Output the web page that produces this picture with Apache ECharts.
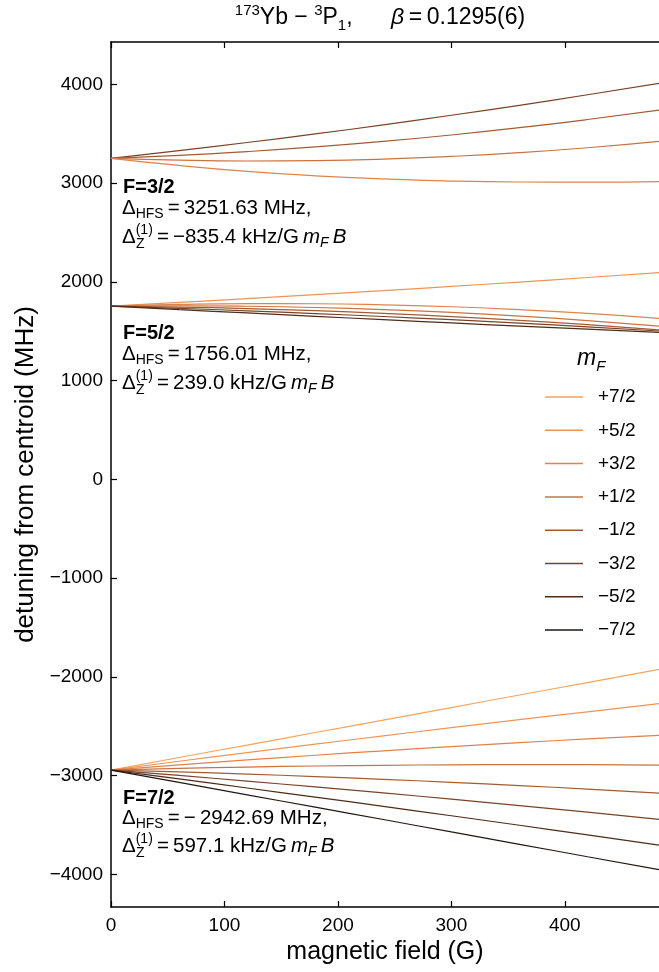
<!DOCTYPE html>
<html>
<head>
<meta charset="utf-8">
<script src="https://cdn.jsdelivr.net/npm/echarts@6/dist/echarts.min.js"></script>
<style>html,body{margin:0;padding:0;background:#fff}#c{width:659px;height:972px}</style>
</head>
<body>
<div id="c"></div>
<script>
// ---- data ----
const fieldG = [0, 60, 120, 180, 240, 300, 360, 420, 483];
const xTicks = [0, 100, 200, 300, 400];
const yTicks = [-4000, -3000, -2000, -1000, 0, 1000, 2000, 3000, 4000];
const mFLabels = ['+7/2', '+5/2', '+3/2', '+1/2', '\u22121/2', '\u22123/2', '\u22125/2', '\u22127/2'];
const mFColors = ['#f7a35c', '#f09455', '#e0824a', '#c9733f', '#a35b33', '#7b4326', '#4e2c18', '#241610'];

// F = 3/2
const F32_m3_2 = [3252, 3330, 3412, 3499, 3591, 3688, 3789, 3896, 4012];
const F32_m1_2 = [3252, 3281, 3320, 3367, 3423, 3488, 3562, 3645, 3741];
const F32_p1_2 = [3252, 3233, 3225, 3229, 3244, 3271, 3309, 3359, 3424];
const F32_p3_2 = [3252, 3180, 3120, 3075, 3043, 3022, 3012, 3010, 3016];
// F = 5/2
const F52_p5_2 = [1756, 1793, 1831, 1871, 1912, 1955, 1999, 2045, 2094];
const F52_p3_2 = [1756, 1773, 1781, 1779, 1768, 1749, 1719, 1681, 1631];
const F52_p1_2 = [1756, 1759, 1754, 1741, 1720, 1691, 1654, 1609, 1553];
const F52_m1_2 = [1756, 1746, 1730, 1709, 1682, 1649, 1611, 1567, 1515];
const F52_m3_2 = [1756, 1733, 1708, 1680, 1650, 1618, 1583, 1545, 1503];
const F52_m5_2 = [1756, 1720, 1686, 1652, 1618, 1585, 1553, 1522, 1490];
// F = 7/2
const F72_p7_2 = [-2943, -2816, -2690, -2563, -2437, -2310, -2183, -2057, -1924];
const F72_p5_2 = [-2943, -2854, -2767, -2681, -2597, -2514, -2433, -2353, -2271];
const F72_p3_2 = [-2943, -2891, -2841, -2793, -2748, -2706, -2666, -2628, -2592];
const F72_p1_2 = [-2943, -2927, -2913, -2902, -2895, -2890, -2888, -2889, -2893];
const F72_m1_2 = [-2943, -2962, -2984, -3009, -3037, -3067, -3100, -3136, -3176];
const F72_m3_2 = [-2943, -2998, -3055, -3114, -3175, -3238, -3303, -3370, -3443];
const F72_m5_2 = [-2943, -3033, -3125, -3217, -3311, -3406, -3502, -3600, -3703];
const F72_m7_2 = [-2943, -3068, -3194, -3319, -3444, -3570, -3695, -3821, -3952];

const curves = [
  ['\u22123/2', F32_m3_2], ['\u22121/2', F32_m1_2], ['+1/2', F32_p1_2], ['+3/2', F32_p3_2],
  ['+5/2', F52_p5_2], ['+3/2', F52_p3_2], ['+1/2', F52_p1_2], ['\u22121/2', F52_m1_2], ['\u22123/2', F52_m3_2], ['\u22125/2', F52_m5_2],
  ['+7/2', F72_p7_2], ['+5/2', F72_p5_2], ['+3/2', F72_p3_2], ['+1/2', F72_p1_2], ['\u22121/2', F72_m1_2], ['\u22123/2', F72_m3_2], ['\u22125/2', F72_m5_2], ['\u22127/2', F72_m7_2]
];

const FONT = '"Liberation Sans", Arial, Helvetica, sans-serif';
const minus = v => String(v).replace('-', '\u2212');

const series = curves.map(([name, vals]) => ({
  name: name,
  type: 'line',
  symbol: 'none',
  smooth: true,
  animation: false,
  data: fieldG.map((b, i) => [b, vals[i]]),
  lineStyle: { width: 1.2, color: mFColors[mFLabels.indexOf(name)] },
  itemStyle: { color: mFColors[mFLabels.indexOf(name)] },
  z: 3
}));

function mkRich(s) {
  const sm = Math.round(s * 0.66);
  const lh = Math.round(s * 1.3);
  return {
    n: { fontSize: s, fontFamily: FONT, lineHeight: lh, color: '#000' },
    b: { fontSize: s, fontFamily: FONT, lineHeight: lh, fontWeight: 'bold', color: '#000' },
    it: { fontSize: s, fontFamily: FONT, lineHeight: lh, fontStyle: 'italic', color: '#000' },
    sub: { fontSize: sm, fontFamily: FONT, lineHeight: sm, verticalAlign: 'bottom', color: '#000' },
    sup: { fontSize: sm, fontFamily: FONT, lineHeight: sm, verticalAlign: 'top', color: '#000' },
    itsub: { fontSize: sm, fontFamily: FONT, lineHeight: sm, verticalAlign: 'bottom', fontStyle: 'italic', color: '#000' }
  };
}

function rtext(x, y, text, size, align) {
  return {
    type: 'text', x: x, y: y, z: 10,
    style: { text: text, rich: mkRich(size), verticalAlign: 'middle', align: align || 'left', fill: '#000', font: size + 'px ' + FONT }
  };
}

const TS = '\u2009';
function block(x, yF, yH, yZ, F, hfs, zee) {
  const s = 20.5;
  return [
    rtext(x + 1, yF, '{b|F=' + F + '}', 20),
    rtext(x, yH, '{n|\u0394}{sub|HFS}{n|' + TS + '=' + TS + hfs + ' MHz,}', s),
    rtext(x, yZ, '{n|\u0394}{sup|(1)}{n|' + TS + '=' + TS + zee + ' kHz/G' + TS + '}{it|m}{itsub|F}{it|' + TS + 'B}', s),
    rtext(x + 14, yZ + 7, '{sub|Z}', s)
  ];
}

const graphics = [].concat(
  [rtext(380, 18, '{sup|173}{n|Yb \u2212 }{sup|3}{n|P}{sub|1}{n|,      }{it|\u03b2}{n|' + TS + '=' + TS + '0.1295(6)}', 23, 'center'),
   rtext(577, 359, '{it|m}{itsub|F}', 23)],
  block(122, 187, 208, 237, '3/2', '3251.63', '\u2212835.4'),
  block(122, 333, 354, 383, '5/2', '1756.01', '239.0'),
  block(122, 798, 818, 846, '7/2', '\u2212' + TS + '2942.69', '597.1')
);

const axisCommon = {
  axisLine: { show: true, onZero: false, lineStyle: { color: '#000', width: 1.5 } },
  splitLine: { show: false }
};

const chart = echarts.init(document.getElementById('c'), null, { renderer: 'canvas' });
chart.setOption({
  animation: false,
  backgroundColor: '#fff',
  textStyle: { fontFamily: FONT },
  grid: { left: 111, right: 0, top: 42, bottom: 65, containLabel: false },
  xAxis: [
    Object.assign({
      type: 'value', min: 0, max: 483, position: 'bottom',
      axisTick: { show: true, inside: true, length: 6, customValues: xTicks, lineStyle: { color: '#000', width: 1.2 } },
      axisLabel: { show: true, customValues: xTicks, fontSize: 19, color: '#000', margin: 9, fontFamily: FONT },
      name: 'magnetic field (G)', nameLocation: 'middle', nameGap: 32,
      nameTextStyle: { fontSize: 25, color: '#000', fontFamily: FONT }
    }, axisCommon),
    Object.assign({
      type: 'value', min: 0, max: 483, position: 'top',
      axisTick: { show: true, inside: true, length: 6, customValues: xTicks, lineStyle: { color: '#000', width: 1.2 } },
      axisLabel: { show: false }
    }, axisCommon)
  ],
  yAxis: [
    Object.assign({
      type: 'value', min: -4330, max: 4430, position: 'left',
      axisTick: { show: true, inside: true, length: 6, customValues: yTicks, lineStyle: { color: '#000', width: 1.2 } },
      axisLabel: { show: true, customValues: yTicks, fontSize: 19, color: '#000', margin: 8, fontFamily: FONT, formatter: v => minus(v) },
      name: 'detuning from centroid (MHz)', nameLocation: 'middle', nameGap: 68,
      nameTextStyle: { fontSize: 26, color: '#000', fontFamily: FONT }
    }, axisCommon)
  ],
  legend: {
    data: mFLabels,
    orient: 'vertical',
    left: 540, top: 382,
    itemWidth: 38, itemHeight: 1.5, itemGap: 13.3,
    icon: 'rect',
    formatter: name => '{g| }' + name,
    textStyle: {
      fontSize: 19, color: '#000', fontFamily: FONT, lineHeight: 20,
      rich: { g: { width: 10, fontSize: 19, lineHeight: 20 } }
    },
    selectedMode: false
  },
  series: series,
  graphic: graphics
});
</script>
</body>
</html>
